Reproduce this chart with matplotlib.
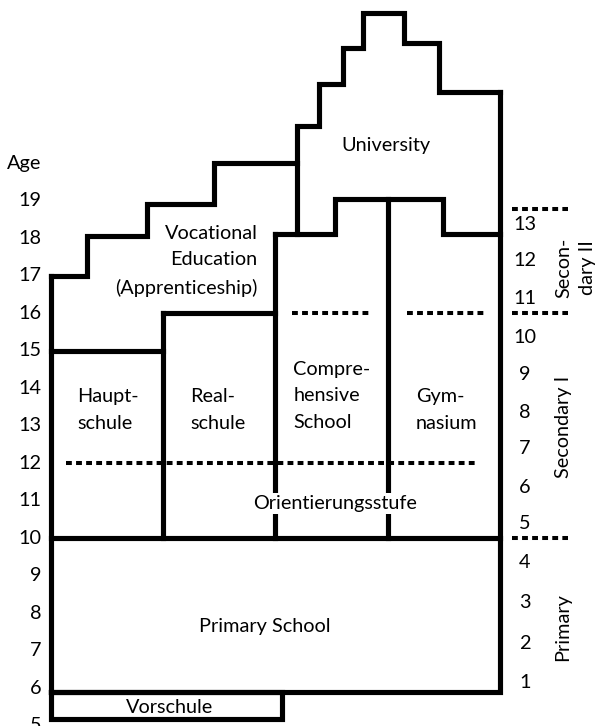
import matplotlib
matplotlib.use("Agg")
import matplotlib.pyplot as plt

plt.rcParams['font.family'] = ['Lato', 'DejaVu Sans']

# ---------------- data (x in school-column units, y in age in years) ----------------
col_edges = [0, 1, 2, 3, 4]
col_tops = [17, 16, 18.1, 19.04, 21.9]          # top of each vertical column line
secondary_start_age = 10
primary_bottom_age = 5.9
vorschule_bottom_age = 5.17
vorschule_right = 2.06
hauptschule_top = 15
realschule_top = 16

voc_step_x = [0, 0.325, 0.86, 1.455, 2.19]
voc_step_age = [17, 18.05, 18.9, 20]

uni_left_x = [2.19, 2.39, 2.60, 2.78]
uni_left_age = [18.1, 21, 22.1, 23.07, 24]
uni_right_x = [3.145, 3.46, 4]
uni_right_age = [24, 23.2, 21.9]

upper_x = [2, 2.53, 3.49, 4]
upper_age = [18.1, 19.04, 18.1]

orient_line_age = 12
orient_line_x = [0.14, 3.78]
upper_dotted_age = 16
upper_dotted_segments = [(2.15, 2.86), (3.17, 3.88)]
right_dotted_ages = [18.77, 16, 10]
right_dotted_x = [4.106, 4.60]

ages = [5, 6, 7, 8, 9, 10, 11, 12, 13, 14, 15, 16, 17, 18, 19]
grades = [str(g) for g in range(1, 14)]
grade_ages = [6.16, 7.2, 8.27, 9.36, 10.4, 11.36, 12.4, 13.36, 14.35, 15.36, 16.4, 17.39, 18.35]

school_labels = ["University", "Vocational\nEducation\n(Apprenticeship)", "Haupt-\nschule",
                 "Real-\nschule", "Compre-\nhensive\nSchool", "Gym-\nnasium",
                 "Orientierungsstufe", "Primary School", "Vorschule"]
label_x = [2.98, 1.84, 0.236, 1.243, 2.16, 3.25, 2.53, 1.91, 1.055]
label_age = [20.48, 17.39, 13.41, 13.41, 13.79, 13.41, 10.93, 7.63, 5.47]
label_ha = ["center", "right", "left", "left", "left", "left", "center", "center", "center"]

stage_labels = ["Primary", "Secondary I", "Secon-\ndary II"]
stage_x = [4.56, 4.56, 4.67]
stage_age = [7.63, 12.96, 17.2]

# ---------------- drawing ----------------
fig = plt.figure(figsize=(5.97, 7.26), dpi=100)
ax = fig.add_axes([0, 0, 1, 1])
ax.set_xlim(-0.4493, 4.862)
ax.set_ylim(4.987, 24.347)
ax.axis("off")

LW = 3.7
solid = dict(color="black", lw=LW, solid_joinstyle="miter", solid_capstyle="projecting")
dotted = dict(color="black", lw=2.9, linestyle=(0, (1.45, 1.05)), dash_capstyle="butt")

# primary box
ax.plot([col_edges[0], col_edges[-1], col_edges[-1], col_edges[0], col_edges[0]],
        [primary_bottom_age, primary_bottom_age, secondary_start_age, secondary_start_age, primary_bottom_age], **solid)
# vorschule box
ax.plot([col_edges[0], vorschule_right, vorschule_right, col_edges[0], col_edges[0]],
        [primary_bottom_age, primary_bottom_age, vorschule_bottom_age, vorschule_bottom_age, primary_bottom_age], **solid)
# column lines
for x, top in zip(col_edges, col_tops):
    ax.plot([x, x], [secondary_start_age, top], **solid)
# school tops
ax.plot([col_edges[0], col_edges[1]], [hauptschule_top, hauptschule_top], **solid)
ax.plot([col_edges[1], col_edges[2]], [realschule_top, realschule_top], **solid)

def stair(xs, ys):
    px, py = [], []
    for i, y in enumerate(ys):
        px += [xs[i], xs[i + 1]]
        py += [y, y]
    return px, py

# vocational stairs
px, py = stair(voc_step_x, voc_step_age)
ax.plot(px, py, **solid)
# upper comp/gym top
px, py = stair(upper_x, upper_age)
ax.plot(px, py, **solid)
# university
ux, uy = [uni_left_x[0]], [uni_left_age[0]]
for i, x in enumerate(uni_left_x):
    ux += [x, (uni_left_x[i + 1] if i + 1 < len(uni_left_x) else uni_right_x[0])]
    uy += [uni_left_age[i + 1], uni_left_age[i + 1]]
for i, x in enumerate(uni_right_x[:-1]):
    ux += [x, uni_right_x[i + 1]]
    uy += [uni_right_age[i + 1], uni_right_age[i + 1]]
ax.plot(ux, uy, **solid)

# dotted lines
ax.plot(orient_line_x, [orient_line_age] * 2, **dotted)
for a, b in upper_dotted_segments:
    ax.plot([a, b], [upper_dotted_age] * 2, **dotted)
for a in right_dotted_ages:
    ax.plot(right_dotted_x, [a, a], **dotted)

FS = 14.3
# labels inside
for t, x, y, ha in zip(school_labels, label_x, label_age, label_ha):
    kw = {}
    if t == "Orientierungsstufe":
        kw["bbox"] = dict(facecolor="white", edgecolor="none", pad=1.5)
    ax.text(x, y, t, ha=ha, va="center", multialignment=ha, fontsize=FS,
            linespacing=1.68, zorder=5, **kw)

# age axis
for a in ages:
    ax.text(-0.0845, a, str(a), ha="right", va="center", fontsize=FS)
ax.text(-0.0845, 20, "Age", ha="right", va="center", fontsize=FS)

# grades
for g, a in zip(grades, grade_ages):
    ax.text(4.22, a, g, ha="center", va="center", fontsize=FS)

for t, x, y in zip(stage_labels, stage_x, stage_age):
    ax.text(x, y, t, rotation=90, ha="center", va="center", multialignment="center",
            fontsize=FS, linespacing=1.5)

fig.savefig("out.png", dpi=100)
